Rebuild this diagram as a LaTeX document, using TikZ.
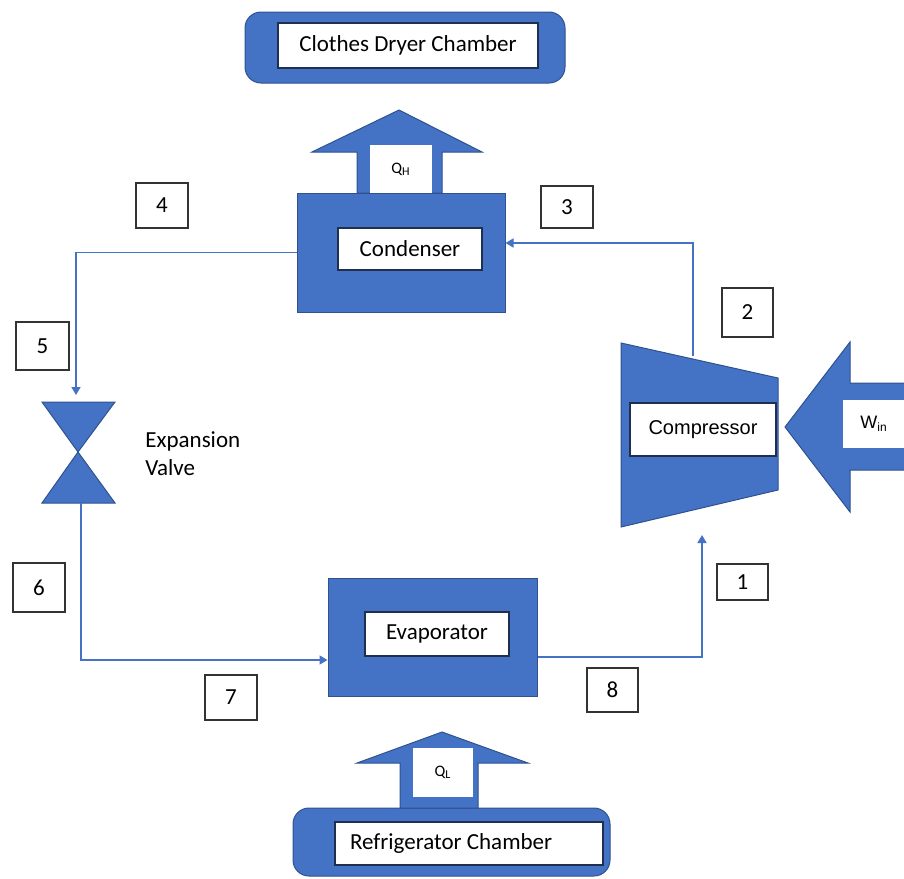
\documentclass[tikz,border=0pt]{standalone}
\usepackage{fontspec}
\setmainfont{Carlito}
\newfontfamily\arialfont{Liberation Sans}
\usetikzlibrary{arrows.meta}
\definecolor{unitblue}{HTML}{4472C4}
\definecolor{unitedge}{HTML}{2F528F}
\definecolor{tagedge}{HTML}{1F2F4F}

\begin{document}
\begin{tikzpicture}[x=0.5pt,y=-0.5pt,
    unit/.style={draw=unitedge,fill=unitblue,line width=0.5pt,inner sep=0pt},
    tag/.style={draw=tagedge,fill=white,line width=0.6pt,inner sep=0pt,
      font=\fontsize{11.5}{14}\selectfont},
    heatbox/.style={fill=white,inner sep=0pt,font=\fontsize{8}{9}\selectfont},
    statebox/.style={draw=black!80,fill=white,line width=0.8pt,inner sep=0pt,
      font=\fontsize{11.5}{14}\selectfont},
    flow/.style={draw=unitblue,line width=0.8pt,-{Triangle[length=4pt,width=4.5pt]}}]
        \useasboundingbox (0,0) rectangle (904,878);
        % chambers
        \node[unit,rounded corners=8pt,minimum width=160pt,minimum height=35.5pt] (dryer) at (405,47.5) {};
        \node[tag,minimum width=130pt,minimum height=22.5pt] (dryerlabel) at (408,45.5) {Clothes Dryer Chamber};
        \node[unit,rounded corners=8pt,minimum width=158.5pt,minimum height=34pt] (fridge) at (451.5,842) {};
        \node[tag,minimum width=134pt,minimum height=21.5pt,text width=119pt,inner xsep=7.5pt,align=flush left] (fridgelabel) at (469,843.5) {Refrigerator Chamber};
        % heat arrows
        \draw[unit] (357,193) -- (357,152) -- (312,152) -- (399,110) -- (482,152) -- (442,152) -- (442,193) -- cycle;
        \node[heatbox,minimum width=31pt,minimum height=24pt] (qh) at (401,169) {Q\textsubscript{H}};
        \draw[unit] (400,808) -- (400,763) -- (357,763) -- (442,732) -- (528,763) -- (478,763) -- (478,808) -- cycle;
        \node[heatbox,minimum width=30pt,minimum height=24.5pt] (ql) at (443,772.5) {Q\textsubscript{L}};
        \draw[unit] (906,383) -- (850,383) -- (850,342) -- (785,427) -- (850,512) -- (850,470) -- (906,470) -- cycle;
        \node[heatbox,minimum width=31pt,minimum height=24pt,font=\arialfont\fontsize{9}{10}\selectfont] (win) at (874,424) {W\textsubscript{in}};
        % condenser and evaporator
        \node[unit,minimum width=104pt,minimum height=59.5pt] (cond) at (401,252.5) {};
        \node[tag,minimum width=72pt,minimum height=21pt] (condlabel) at (410,249) {Condenser};
        \node[unit,minimum width=104.5pt,minimum height=59pt] (evap) at (432.5,637) {};
        \node[tag,minimum width=72pt,minimum height=22pt] (evaplabel) at (437,634) {Evaporator};
        % compressor
        \draw[unit] (621,343) -- (778,378) -- (778,490) -- (621,527) -- cycle;
        \node[tag,minimum width=73pt,minimum height=26.5pt,font=\arialfont\fontsize{10}{12}\selectfont] (comp) at (703,429.5) {Compressor};
        \coordinate (compout) at (693,356);
        \coordinate (compin) at (702,535);
        % expansion valve
        \draw[unit] (42,402) -- (115,402) -- (78,452) -- (42,503) -- (115,503) -- (78,452) -- cycle;
        \coordinate (valvein) at (76,402);
        \coordinate (valveout) at (81,503);
        \node[anchor=west,align=left,inner sep=0pt,font=\fontsize{11.5}{14}\selectfont] (valvelabel) at (145,454) {Expansion\\Valve};
        % refrigerant lines
        \draw[flow] (compout) |- ([yshift=4.75pt]cond.east);
        \draw[flow,shorten >=3.5pt] (cond.west) -| (valvein);
        \draw[flow] (valveout) |- ([yshift=-11.5pt]evap.west);
        \draw[flow] ([yshift=-10pt]evap.east) -| (compin);
        % state points
        \foreach \n/\x/\y/\w/\h in {1/742.5/582/25.5/18, 2/747.5/312.5/25.5/24.5,
          3/567/207/26/21, 4/162/205.5/26/22.5, 5/42.5/346/26.5/24,
          6/39/587.5/26/24.5, 7/231/697.5/26/22.5, 8/612.5/690/25.5/22} {
            \node[statebox,minimum width=\w pt,minimum height=\h pt] (s\n) at (\x,\y) {\n};
        }
\end{tikzpicture}
\end{document}
